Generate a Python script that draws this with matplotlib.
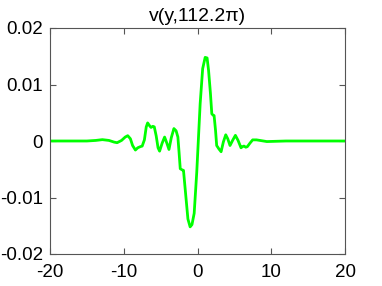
import matplotlib
matplotlib.use("Agg")
import matplotlib.pyplot as plt

plt.rcParams["font.family"] = ["Liberation Sans", "DejaVu Sans"]
plt.rcParams["axes.unicode_minus"] = False

# curve
y_pos = [-20, -17, -15, -13.8, -12.9, -12.0, -11.3, -10.9, -10.3, -9.8, -9.46, -9.1,
         -8.8, -8.42, -8.1, -7.75, -7.5, -7.2, -6.95, -6.76, -6.5, -6.3, -6.05, -5.86,
         -5.6, -5.35, -5.14, -4.8, -4.46, -4.15, -3.87, -3.55, -3.2, -2.9, -2.66,
         -2.5, -2.34, -2.1, -1.9, -1.6, -1.3, -1.0, -0.75, -0.45, -0.1, 0.36, 0.7,
         1.04, 1.3, 1.5, 1.75, 1.94, 2.1, 2.25, 2.45, 2.6, 2.9, 3.2, 3.5, 3.83,
         4.1, 4.41, 4.8, 5.14, 5.5, 5.9, 6.1, 6.3, 6.55, 6.76, 7.1, 7.48, 8.0,
         8.47, 9.4, 12, 20]
v_val = [0, 0, 0, 0.0001, 0.00024, 0.0001, -0.0002, -0.0003, 0.0001, 0.0007, 0.00094,
         0.0004, -0.0008, -0.0016, -0.0012, -0.001, -0.0009, 0.0002, 0.0025, 0.0032,
         0.0027, 0.0024, 0.0026, 0.0025, 0.0009, -0.0012, -0.0018, -0.0004, 0.0007,
         -0.0004, -0.0015, 0.0006, 0.0022, 0.0018, 0.0007, -0.002, -0.0049, -0.0051,
         -0.0052, -0.0095, -0.0138, -0.0152, -0.0148, -0.0128, -0.0055, 0.0066,
         0.0128, 0.0148, 0.0147, 0.0125, 0.0085, 0.0048, 0.0046, 0.0045, 0.0018,
         -0.0008, -0.0014, -0.0019, -0.0002, 0.0011, 0.0004, -0.0008, 0.0002, 0.001,
         0.0001, -0.0012, -0.001, -0.0009, -0.0011, -0.001, -0.0004, 0.0002, 0.0002,
         0.0001, -0.0001, 0, 0]

x_ticks = [-20, -10, 0, 10, 20]
y_ticks = [-0.02, -0.01, 0, 0.01, 0.02]
y_labels = ["-0.02", "-0.01", "0", "0.01", "0.02"]

fig = plt.figure(figsize=(3.82, 2.86), dpi=100)
ax = fig.add_axes([50 / 382, 32 / 286, 295 / 382, 226 / 286])
ax.plot(y_pos, v_val, color="#00ff00", lw=2, solid_joinstyle="round")

ax.set_xlim(-20, 20)
ax.set_ylim(-0.02, 0.02)
ax.set_xticks(x_ticks)
ax.set_xticklabels([str(t) for t in x_ticks])
ax.set_yticks(y_ticks)
ax.set_yticklabels(y_labels)
ax.tick_params(direction="in", top=True, right=True, labelsize=13.5, length=4,
               color="#555555", width=0.8)
ax.tick_params(axis="x", pad=7)
ax.tick_params(axis="y", pad=5)
for s in ax.spines.values():
    s.set_color("#555555")
    s.set_linewidth(0.8)
ax.set_title("v(y,112.2π)", fontsize=14, pad=5)

fig.savefig("out.png", dpi=100)
